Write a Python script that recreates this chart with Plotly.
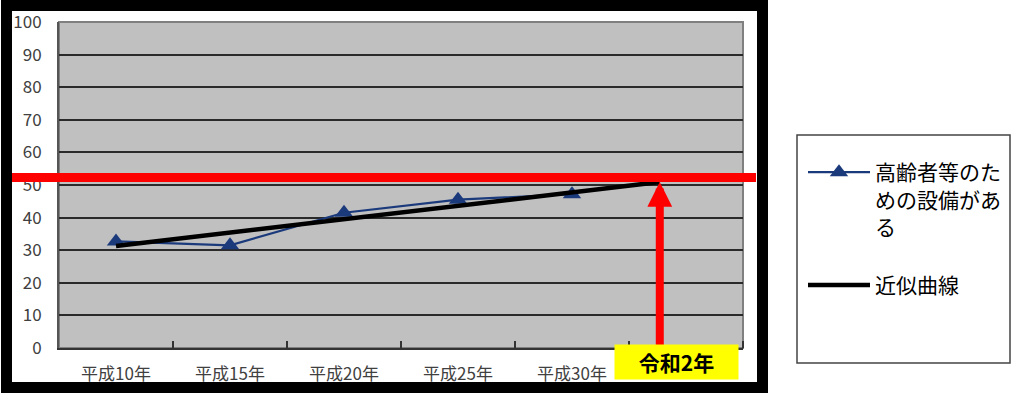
import plotly.graph_objects as go

# ---- data ----
categories = ["平成10年", "平成15年", "平成20年", "平成25年", "平成30年", ""]
cat_pos = [0, 1, 2, 3, 4, 5]
series_name = "高齢者等のた<br>めの設備があ<br>る"
series_values = [32.7, 31.5, 41.5, 45.5, 47.2]
trend_name = "近似曲線"
trend_x = [0, 4.77]
trend_y = [31.3, 50.9]
target_level = 52.3
target_x = 4.77
target_label = "令和2年"
y_ticks = [0, 10, 20, 30, 40, 50, 60, 70, 80, 90, 100]

FONT = "Noto Sans CJK JP"
W, H = 1012, 393
L, R, T, B = 59, 269, 22, 45
PW, PH = W - L - R, H - T - B


def px(x):
    return (x - L) / PW


def py(y):
    return (H - B - y) / PH


fig = go.Figure()
fig.add_trace(go.Scatter(
    x=cat_pos[:len(series_values)], y=series_values, name=series_name,
    mode="lines+markers", legendgroup="a",
    line=dict(color="#1b3a7b", width=2.2),
    marker=dict(symbol="triangle-up", size=16, color="#1b3a7b"),
))
fig.add_trace(go.Scatter(
    x=trend_x, y=trend_y, name=trend_name, mode="lines", legendgroup="b",
    line=dict(color="#000000", width=4.5),
))

fig.update_layout(
    width=W, height=H,
    margin=dict(l=L, r=R, t=T, b=B, pad=0, autoexpand=False),
    paper_bgcolor="white", plot_bgcolor="#c0c0c0",
    font=dict(family=FONT, color="#404040", size=16),
    showlegend=True,
    legend=dict(
        x=px(803), y=py(152), xanchor="left", yanchor="top",
        font=dict(family=FONT, size=21, color="#000000"),
        bgcolor="rgba(0,0,0,0)", borderwidth=0, itemwidth=62,
        valign="top", traceorder="grouped", tracegroupgap=28,
    ),
    xaxis=dict(
        range=[-0.5, 5.5], tickmode="array", tickvals=cat_pos, ticktext=categories,
        ticks="", showgrid=False, zeroline=False, automargin=False,
        showline=True, linecolor="#333333", linewidth=2,
        ticklabelstandoff=10,
        tickfont=dict(family=FONT, size=17, color="#404040"),
        minor=dict(tickmode="array", tickvals=[0.5, 1.5, 2.5, 3.5, 4.5, 5.5],
                   ticks="inside", ticklen=7, tickwidth=2, tickcolor="#333333", showgrid=False),
    ),
    yaxis=dict(
        range=[0, 100], tickmode="array", tickvals=y_ticks, ticks="",
        showgrid=True, gridcolor="#2a2a2a", gridwidth=1.5, zeroline=False, automargin=False,
        showline=True, linecolor="#555555", linewidth=2,
        ticklabelstandoff=12,
        tickfont=dict(family=FONT, size=17, color="#404040"),
    ),
)

shapes = [
    # plot area border
    dict(type="rect", xref="paper", yref="paper", x0=0, x1=1, y0=0, y1=1,
         line=dict(color="#808080", width=2), layer="below"),
    # thick outer frame
    dict(type="rect", xref="paper", yref="paper",
         x0=px(6.5), x1=px(762.5), y0=py(387.5), y1=py(5.5),
         line=dict(color="#000000", width=11), fillcolor="rgba(0,0,0,0)"),
    # legend box
    dict(type="rect", xref="paper", yref="paper",
         x0=px(797), x1=px(1010), y0=py(363), y1=py(135),
         line=dict(color="#444444", width=1.5), fillcolor="rgba(0,0,0,0)"),
    # red target line
    dict(type="line", xref="paper", yref="y", x0=px(12), x1=px(756),
         y0=target_level, y1=target_level,
         line=dict(color="#ff0000", width=9)),
]
fig.update_layout(shapes=shapes)

fig.add_annotation(
    x=target_x, y=trend_y[-1], ax=target_x, ay=0, xref="x", yref="y",
    axref="x", ayref="y", text="", showarrow=True,
    arrowhead=2, arrowsize=0.62, arrowwidth=8, arrowcolor="#ff0000",
)
fig.add_annotation(
    x=px(676.5), y=py(362), xref="paper", yref="paper",
    xanchor="center", yanchor="middle", showarrow=False,
    text="<b>" + target_label + "</b>", bgcolor="#ffff00",
    width=121, height=32,
    font=dict(family=FONT, size=21, color="#000000"),
)

fig.write_html("out.html")
